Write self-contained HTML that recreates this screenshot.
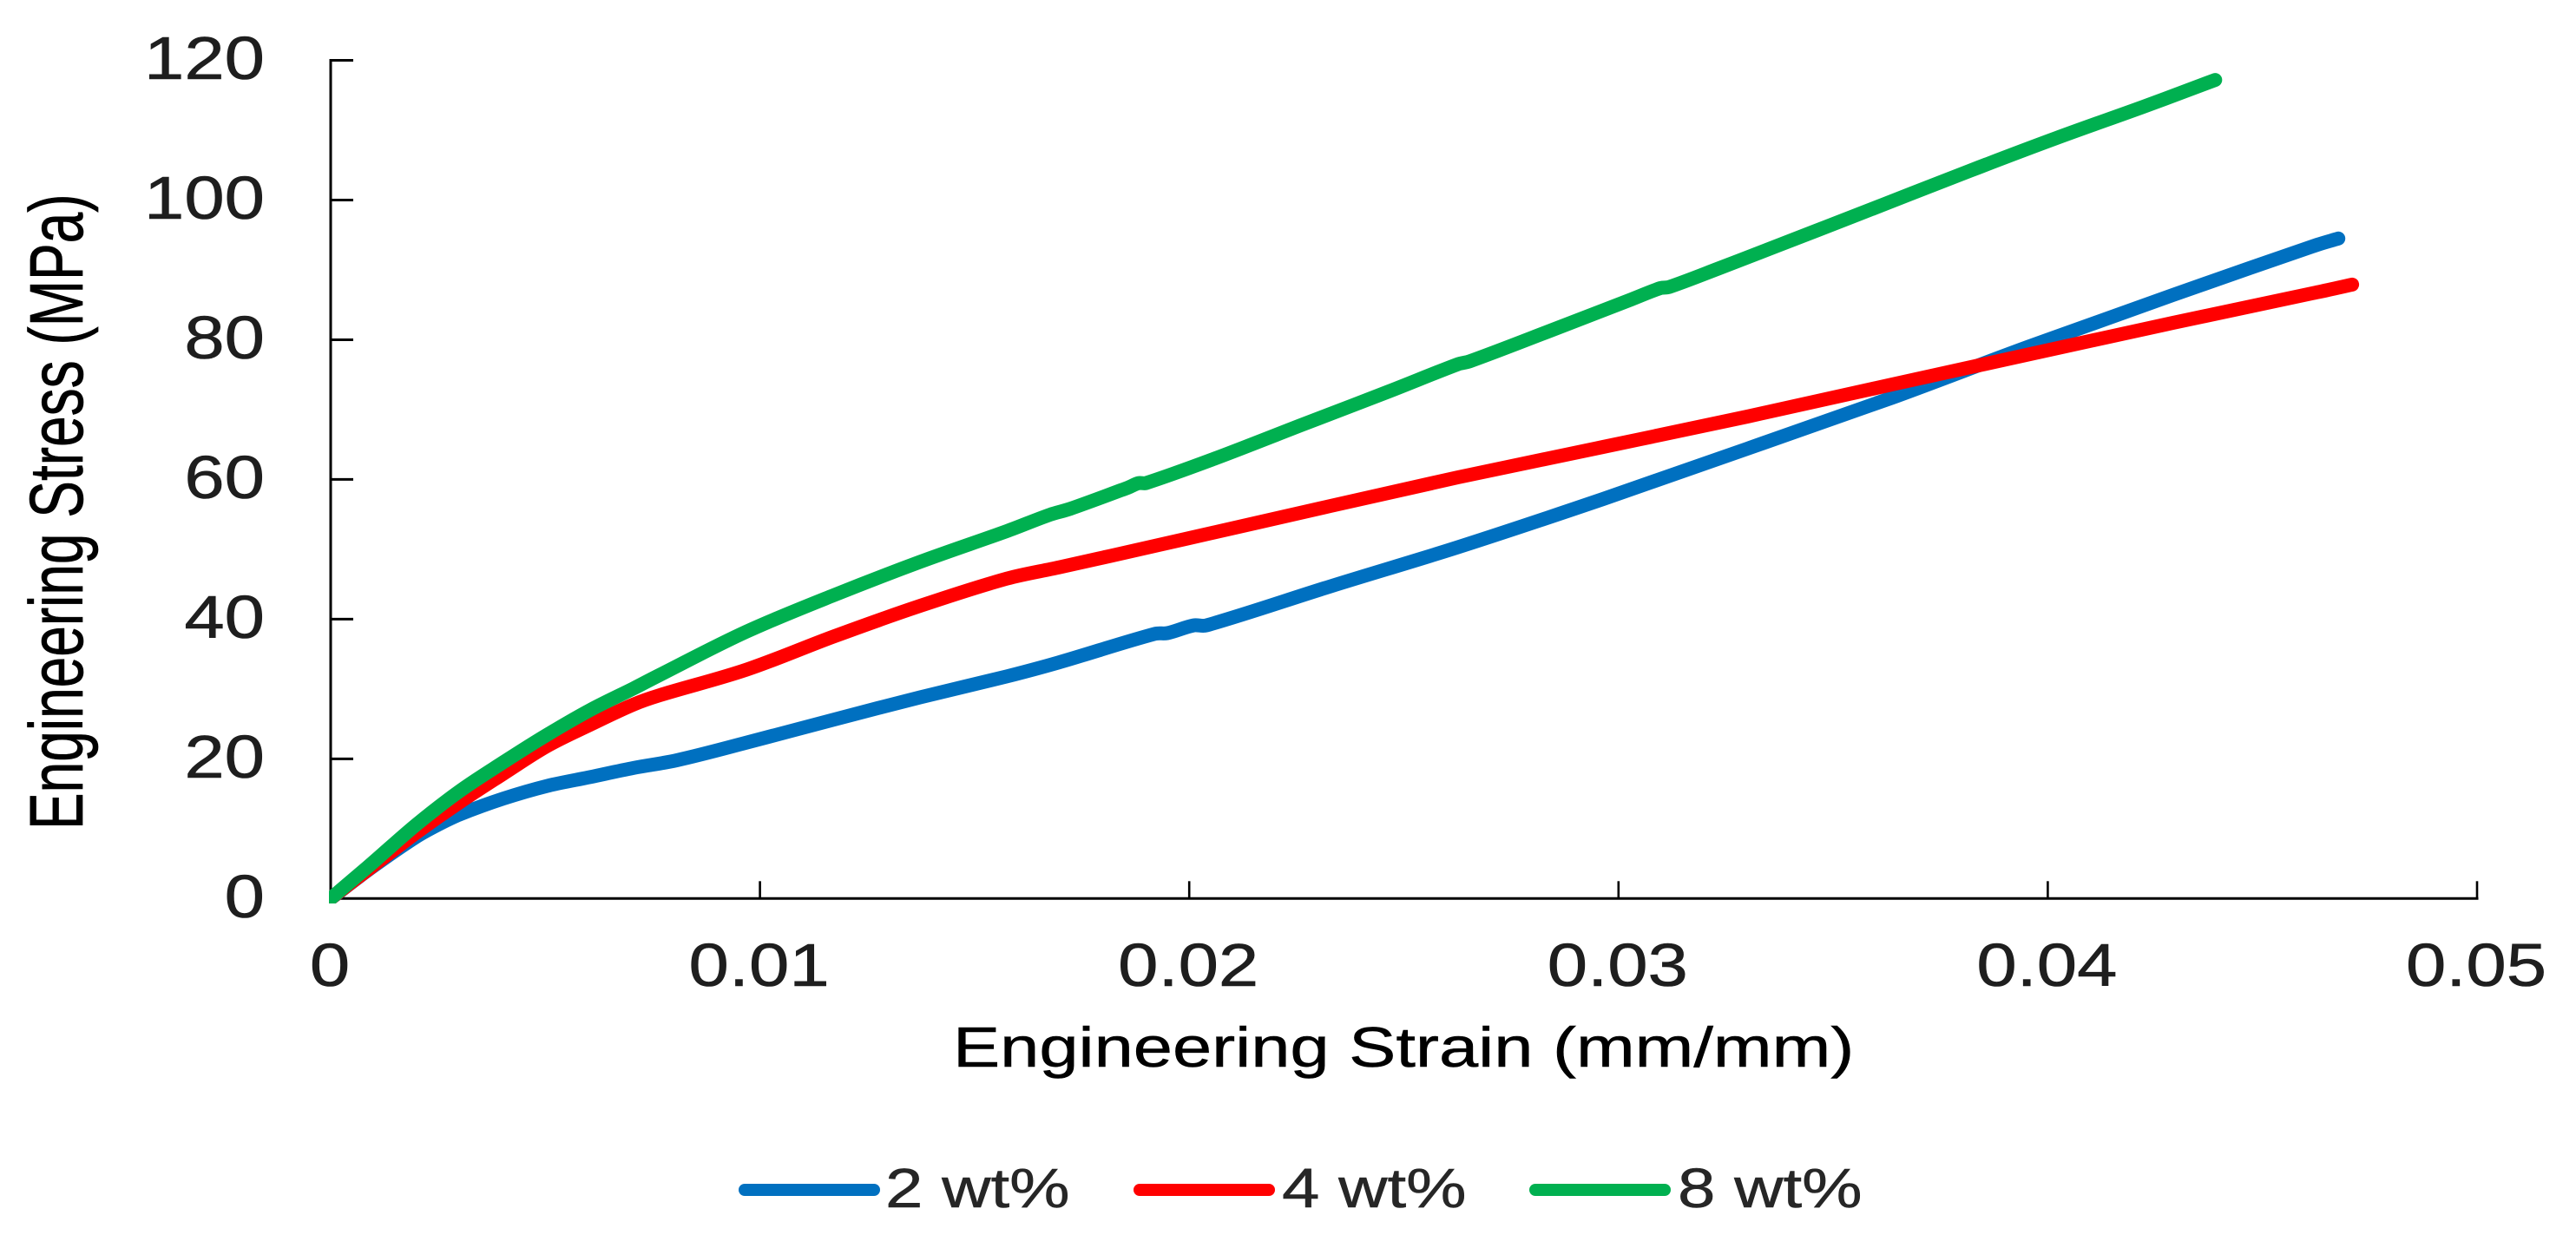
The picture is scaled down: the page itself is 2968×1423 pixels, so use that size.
<!DOCTYPE html>
<html lang="en">
<head>
<meta charset="utf-8">
<title>Engineering Stress vs Strain</title>
<style>
html,body{margin:0;padding:0;background:#fff;}
body{width:2968px;height:1423px;overflow:hidden;}
svg{display:block;}
text{font-family:"Liberation Sans",sans-serif;}
</style>
</head>
<body>
<svg id="chart" xmlns="http://www.w3.org/2000/svg" width="2968" height="1423" viewBox="0 0 2968 1423">
  <defs>
    <clipPath id="plot-clip"><rect x="379" y="0" width="2589" height="1041"/></clipPath>
  </defs>
  <rect x="0" y="0" width="2968" height="1423" fill="#ffffff"/>
  <g id="axes"></g>
  <g id="series" clip-path="url(#plot-clip)"></g>
  <text transform="translate(1098,1229) scale(1.25,1)" font-size="65" fill="#000" stroke="#000" stroke-width="0.5">Engineering Strain (mm/mm)</text>
  <text transform="translate(95,956) scale(1.36,1) rotate(-90)" font-size="64" fill="#000" stroke="#000" stroke-width="0.5">Engineering Stress (MPa)</text>
  <g>
    <g>
      <line x1="858" y1="1371" x2="1007" y2="1371" stroke="#0070C0" stroke-width="14" stroke-linecap="round"/>
      <text transform="translate(1020,1391) scale(1.22,1)" font-size="64" fill="#262626" stroke="#262626" stroke-width="0.5">2 wt%</text>
    </g>
    <g>
      <line x1="1313" y1="1371" x2="1462" y2="1371" stroke="#FF0000" stroke-width="14" stroke-linecap="round"/>
      <text transform="translate(1477,1391) scale(1.22,1)" font-size="64" fill="#262626" stroke="#262626" stroke-width="0.5">4 wt%</text>
    </g>
    <g>
      <line x1="1769" y1="1371" x2="1918" y2="1371" stroke="#00B050" stroke-width="14" stroke-linecap="round"/>
      <text transform="translate(1933,1391) scale(1.22,1)" font-size="64" fill="#262626" stroke="#262626" stroke-width="0.5">8 wt%</text>
    </g>
  </g>
</svg>
<script>
const xTickValues = [0, 0.01, 0.02, 0.03, 0.04, 0.05];
const xTickLabels = ["0", "0.01", "0.02", "0.03", "0.04", "0.05"];
const yTickValues = [0, 20, 40, 60, 80, 100, 120];
const yTickLabels = ["0", "20", "40", "60", "80", "100", "120"];

const strain2wt = [0, 0.00099, 0.0020, 0.00251, 0.00301, 0.00402, 0.00503, 0.00605, 0.00706, 0.00807, 0.00968, 0.01171, 0.01373, 0.01575, 0.01696, 0.0192, 0.01949, 0.0201, 0.0204, 0.02329, 0.02626, 0.02964, 0.033, 0.03637, 0.03955, 0.04291, 0.04628, 0.04677];
const stress2wt = [0, 4.6, 8.86, 10.6, 12.05, 14.3, 16.1, 17.4, 18.7, 19.8, 22.3, 25.6, 28.8, 31.8, 33.8, 37.9, 38.0, 39.1, 39.1, 44.7, 50.3, 57.2, 64.4, 71.7, 79.0, 86.4, 93.6, 94.5];

const strain4wt = [0, 0.00099, 0.0020, 0.00301, 0.00402, 0.00503, 0.00605, 0.00706, 0.00766, 0.00968, 0.01171, 0.01373, 0.01575, 0.01696, 0.01993, 0.02329, 0.02626, 0.02964, 0.033, 0.03637, 0.03955, 0.04291, 0.04628, 0.04709];
const stress4wt = [0, 4.7, 9.44, 13.8, 17.85, 21.8, 24.9, 27.8, 29.1, 32.75, 37.5, 41.9, 45.8, 47.4, 51.5, 56.2, 60.3, 64.65, 69, 73.6, 77.9, 82.4, 86.8, 87.9];

const strain8wt = [0, 0.00099, 0.0020, 0.00301, 0.00402, 0.00503, 0.00605, 0.00706, 0.00766, 0.00968, 0.01171, 0.01373, 0.01575, 0.01676, 0.01723, 0.01858, 0.01882, 0.01899, 0.0206, 0.02262, 0.02465, 0.02626, 0.02653, 0.02829, 0.03031, 0.03098, 0.03118, 0.03233, 0.03368, 0.03617, 0.03819, 0.04021, 0.0422, 0.0439];
const stress8wt = [0, 5.2, 10.6, 15.4, 19.5, 23.4, 27.0, 30.1, 32.0, 38.2, 43.4, 48.2, 52.6, 54.96, 55.8, 58.85, 59.47, 59.47, 63, 67.8, 72.6, 76.5, 76.9, 81.0, 85.8, 87.4, 87.55, 90.2, 93.4, 99.35, 104.2, 108.9, 113.3, 117.2];

const SVGNS = "http://www.w3.org/2000/svg";
const X0 = 381, X_PER_UNIT = 49460, Y0 = 1035.3, Y_PER_UNIT = 8.048;
function xScale(v){ return X0 + v * X_PER_UNIT; }
function yScale(v){ return Y0 - v * Y_PER_UNIT; }

const axes = document.getElementById("axes");

function drawLine(parent, x1, y1, x2, y2, w){
  const l = document.createElementNS(SVGNS, "line");
  l.setAttribute("x1", x1); l.setAttribute("y1", y1);
  l.setAttribute("x2", x2); l.setAttribute("y2", y2);
  l.setAttribute("stroke", "#000");
  l.setAttribute("stroke-width", w);
  parent.appendChild(l);
  return l;
}

const yAxisLine = drawLine(axes, xScale(0), yScale(120) - 1.5, xScale(0), yScale(0) + 1.5, 3);


const xAxisLine = drawLine(axes, xScale(0), yScale(0), xScale(0.05) + 1.5, yScale(0), 3);



yTickValues.forEach(function(v, i){
  if (v !== 0) {
    const t = drawLine(axes, xScale(0), yScale(v), xScale(0) + 26, yScale(v), 3);
    
    
  }
  const lab = document.createElementNS(SVGNS, "text");
  lab.setAttribute("transform", "translate(305," + (yScale(v) + 21.5) + ") scale(1.19,1)");
  lab.setAttribute("text-anchor", "end");
  lab.setAttribute("font-size", "70");
  lab.setAttribute("fill", "#1e1e1e");
  lab.setAttribute("stroke", "#1e1e1e");
  lab.setAttribute("stroke-width", "0.6");
  lab.textContent = yTickLabels[i];
  
  
  axes.appendChild(lab);
});

xTickValues.forEach(function(v, i){
  if (v !== 0) {
    const t = drawLine(axes, xScale(v), yScale(0) - 20, xScale(v), yScale(0), 2.6);
    
    
  }
  const lab = document.createElementNS(SVGNS, "text");
  lab.setAttribute("transform", "translate(" + (xScale(v) - 1) + ",1136) scale(1.19,1)");
  lab.setAttribute("text-anchor", "middle");
  lab.setAttribute("font-size", "70");
  lab.setAttribute("fill", "#1e1e1e");
  lab.setAttribute("stroke", "#1e1e1e");
  lab.setAttribute("stroke-width", "0.6");
  lab.textContent = xTickLabels[i];
  
  
  axes.appendChild(lab);
});

const seriesGroup = document.getElementById("series");

function smoothPath(xs, ys){
  const P = xs.map(function(x, i){ return [xScale(x), yScale(ys[i])]; });
  function tangent(i){
    const a = P[Math.max(i - 1, 0)], b = P[Math.min(i + 1, P.length - 1)];
    const dx = b[0] - a[0], dy = b[1] - a[1], n = Math.hypot(dx, dy) || 1;
    return [dx / n, dy / n];
  }
  let d = "M" + P[0][0].toFixed(1) + " " + P[0][1].toFixed(1);
  for (let i = 0; i < P.length - 1; i++) {
    const len = Math.hypot(P[i + 1][0] - P[i][0], P[i + 1][1] - P[i][1]) / 3;
    const t0 = tangent(i), t1 = tangent(i + 1);
    d += "C" + (P[i][0] + t0[0] * len).toFixed(1) + " " + (P[i][1] + t0[1] * len).toFixed(1) + " " +
         (P[i + 1][0] - t1[0] * len).toFixed(1) + " " + (P[i + 1][1] - t1[1] * len).toFixed(1) + " " +
         P[i + 1][0].toFixed(1) + " " + P[i + 1][1].toFixed(1);
  }
  return d;
}

function drawSeries(xs, ys, color){
  const p = document.createElementNS(SVGNS, "path");
  p.setAttribute("d", smoothPath(xs, ys));
  p.setAttribute("fill", "none");
  p.setAttribute("stroke", color);
  p.setAttribute("stroke-width", "16");
  p.setAttribute("stroke-linecap", "round");
  p.setAttribute("stroke-linejoin", "round");
  seriesGroup.appendChild(p);
  return p;
}
const line2 = drawSeries(strain2wt, stress2wt, "#0070C0");


const line4 = drawSeries(strain4wt, stress4wt, "#FF0000");


const line8 = drawSeries(strain8wt, stress8wt, "#00B050");


</script>
</body>
</html>
